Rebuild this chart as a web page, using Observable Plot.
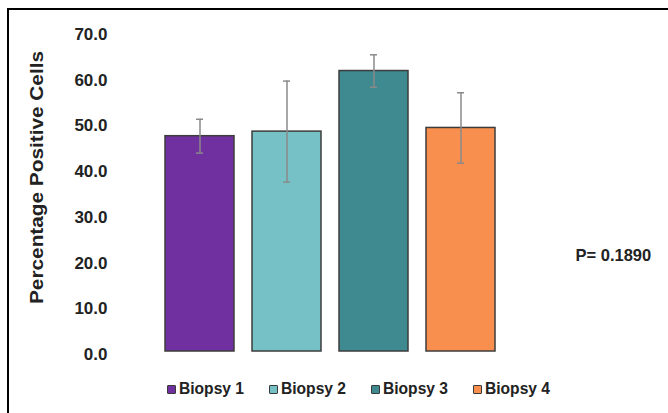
<!DOCTYPE html>
<html>
<head>
<meta charset="utf-8">
<script src="https://cdn.jsdelivr.net/npm/d3@7"></script>
<script src="https://cdn.jsdelivr.net/npm/@observablehq/plot@0.6"></script>
<style>
  html, body { margin: 0; padding: 0; background: #fff; width: 668px; height: 413px; overflow: hidden;
    font-family: "Liberation Sans", Arial, sans-serif; }
  #frame { position: absolute; left: 7px; top: 7.5px; width: 720px; height: 460px;
    border-left: 2.7px solid #000; border-top: 2.7px solid #000; box-sizing: border-box; }
  #chart { position: absolute; left: 0; top: 0; }
  #legend { position: absolute; left: 167px; top: 379px; height: 20px; display: flex; align-items: center;
    font-weight: bold; font-size: 15.6px; color: #222; line-height: 20px; white-space: nowrap; }
  #legend .item { display: flex; align-items: center; margin-right: 25px; }
  #legend .sw { width: 7px; height: 7px; border: 1px solid #3a3a3a; border-radius: 1px; margin-right: 3px; }
</style>
</head>
<body>
<div id="frame"></div>
<div id="chart"></div>
<div id="legend"></div>
<script>
const categories = ["Biopsy 1", "Biopsy 2", "Biopsy 3", "Biopsy 4"];
const means = [47.1, 48.1, 61.35, 48.9];
const errors = [3.7, 11.05, 3.55, 7.7];
const colors = ["#7030a0", "#75c1c5", "#3e8a90", "#f98f4e"];
const yTicks = [0, 10, 20, 30, 40, 50, 60, 70];
const yTitle = "Percentage Positive Cells";
const pLabel = "P= 0.1890";

const rows = categories.map((c, i) => ({category: c, mean: means[i], err: errors[i]}));

const svg = Plot.plot({
  width: 668,
  height: 365,
  marginLeft: 154.5,
  marginRight: 163.6,
  marginTop: 31,
  marginBottom: 14,
  style: {background: "transparent", fontFamily: "'Liberation Sans', Arial, sans-serif", overflow: "visible"},
  x: {domain: categories, paddingInner: 0.21, paddingOuter: 0.1, axis: null},
  y: {domain: [0, 70]},
  color: {domain: categories, range: colors},
  marks: [
    Plot.barY(rows, {x: "category", y: "mean", fill: "category", stroke: "#3c3c3c", strokeWidth: 1.5}),
    Plot.ruleX(rows, {x: "category", y1: d => d.mean - d.err, y2: d => d.mean + d.err, stroke: "#8a8a8a", strokeWidth: 1.5}),
    Plot.tickY(rows, {x: "category", y: d => d.mean - d.err, stroke: "#8a8a8a", strokeWidth: 1.5, insetLeft: 31, insetRight: 31}),
    Plot.tickY(rows, {x: "category", y: d => d.mean + d.err, stroke: "#8a8a8a", strokeWidth: 1.5, insetLeft: 31, insetRight: 31}),
    Plot.axisY({ticks: yTicks, tickSize: 0, tickPadding: 47.5, tickFormat: d3.format(".1f"),
      fontSize: 17, fontWeight: "bold", fill: "#222", dy: 3, label: null}),
    Plot.text([yTitle], {text: d => d, frameAnchor: "left", textAnchor: "middle", lineAnchor: "middle",
      dx: -118, dy: -14, rotate: -90,
      fontSize: 19, fontWeight: "bold", fill: "#222"}),
    Plot.text([pLabel], {text: d => d, frameAnchor: "right", textAnchor: "start", dx: 70.6, dy: 64,
      fontSize: 16.5, fontWeight: "bold", fill: "#222"})
  ]
});
svg.querySelectorAll("text").forEach(t => {
  if (t.textContent === yTitle) {
    t.setAttribute("textLength", 253);
    t.setAttribute("lengthAdjust", "spacingAndGlyphs");
  }
});
document.getElementById("chart").appendChild(svg);

const legend = document.getElementById("legend");
categories.forEach((c, i) => {
  const item = document.createElement("div");
  item.className = "item";
  const sw = document.createElement("span");
  sw.className = "sw";
  sw.style.background = colors[i];
  const lab = document.createElement("span");
  lab.textContent = c;
  item.appendChild(sw);
  item.appendChild(lab);
  legend.appendChild(item);
});
</script>
</body>
</html>
